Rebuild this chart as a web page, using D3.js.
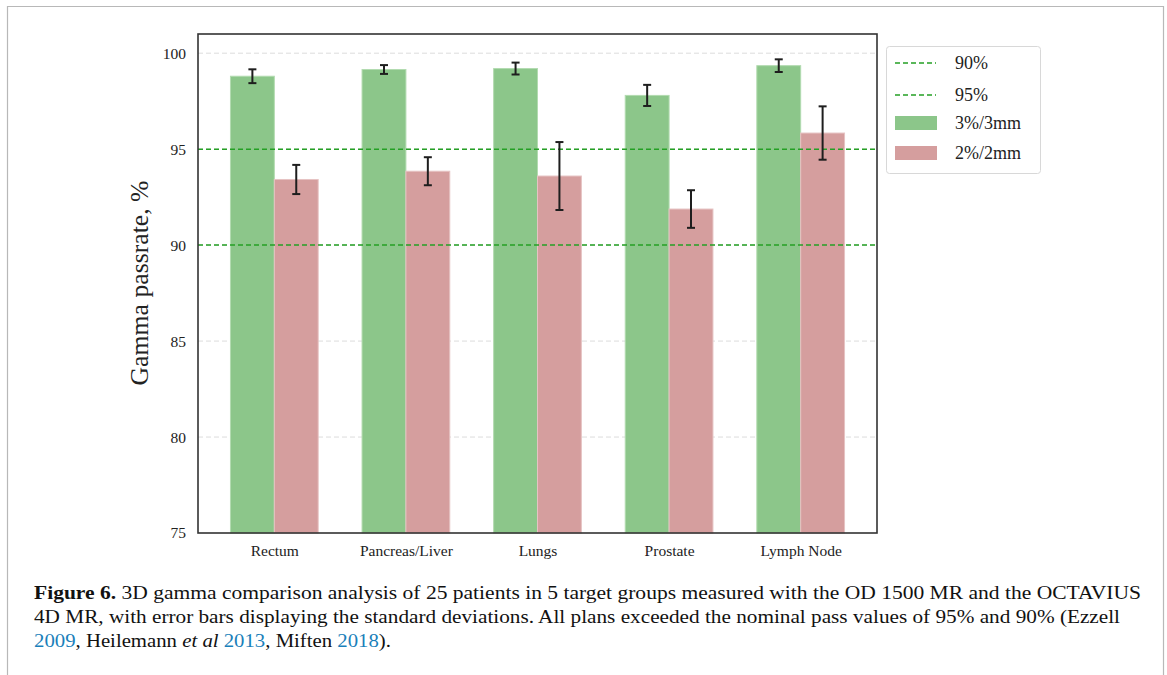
<!DOCTYPE html>
<html>
<head>
<meta charset="utf-8">
<script src="https://cdn.jsdelivr.net/npm/d3@7"></script>
<style>
  body { margin: 0; background: #fff; }
  svg { display: block; }
</style>
</head>
<body>
<svg id="canvas"></svg>
<script>
const categories = ["Rectum", "Pancreas/Liver", "Lungs", "Prostate", "Lymph Node"];
const mean3mm = [98.8, 99.15, 99.2, 97.8, 99.35];
const sd3mm = [0.36, 0.23, 0.31, 0.55, 0.33];
const mean2mm = [93.42, 93.85, 93.6, 91.88, 95.84];
const sd2mm = [0.76, 0.73, 1.77, 0.98, 1.39];
const thresholds = [90, 95];
const yTicks = [75, 80, 85, 90, 95, 100];
const seriesNames = ["3%/3mm", "2%/2mm"];

const width = 1167;
const height = 675;
const svg = d3.select("#canvas").attr("width", width).attr("height", height);

const serif = "'Liberation Serif', 'DejaVu Serif', serif";
const green = "#8cc68a";
const red = "#d59e9e";
const lineGreen = "#24a024";

// page frame (top and sides only)
svg.append("path")
    .attr("d", `M7.5,${height} V6.5 H1163.5 V${height}`)
    .attr("fill", "none")
    .attr("stroke", "#b8b8b8")
    .attr("stroke-width", 1.2);

const plot = { left: 198, right: 877, top: 34, bottom: 533 };

const xScale = d3.scaleLinear().domain([-0.58, 4.58]).range([plot.left, plot.right]);
const yScale = d3.scaleLinear().domain([75, 101]).range([plot.bottom, plot.top]);
const barW = xScale(1 / 3) - xScale(0);

const g = svg.append("g");

// grid
const yAxis = d3.axisLeft(yScale).tickValues(yTicks).tickSize(0).tickPadding(12);
g.append("g")
    .attr("transform", `translate(${plot.left},0)`)
    .call(yAxis)
    .call(a => a.select(".domain").remove())
    .call(a => a.selectAll("text")
        .attr("font-family", serif)
        .attr("font-size", 15.5)
        .attr("fill", "#222"));

g.append("g").selectAll("line")
    .data(yTicks.filter(t => t > 75))
    .join("line")
    .attr("x1", plot.left).attr("x2", plot.right)
    .attr("y1", d => yScale(d)).attr("y2", d => yScale(d))
    .attr("stroke", "#dcdcdc")
    .attr("stroke-width", 1)
    .attr("stroke-dasharray", "5,3");

// bars
const rows = categories.map((c, i) => ({ c, i, m3: mean3mm[i], s3: sd3mm[i], m2: mean2mm[i], s2: sd2mm[i] }));

g.append("g").selectAll("rect")
    .data(rows)
    .join("rect")
    .attr("x", d => xScale(d.i) - barW)
    .attr("y", d => yScale(d.m3))
    .attr("width", barW)
    .attr("height", d => plot.bottom - yScale(d.m3))
    .attr("fill", green)
    .attr("stroke", "#b2dbb0")
    .attr("stroke-width", 1);

g.append("g").selectAll("rect")
    .data(rows)
    .join("rect")
    .attr("x", d => xScale(d.i))
    .attr("y", d => yScale(d.m2))
    .attr("width", barW)
    .attr("height", d => plot.bottom - yScale(d.m2))
    .attr("fill", red)
    .attr("stroke", "#e6c3c3")
    .attr("stroke-width", 1);

// threshold lines
g.append("g").selectAll("line")
    .data(thresholds)
    .join("line")
    .attr("x1", plot.left).attr("x2", plot.right)
    .attr("y1", d => yScale(d)).attr("y2", d => yScale(d))
    .attr("stroke", lineGreen)
    .attr("stroke-width", 1.5)
    .attr("stroke-dasharray", "5,3");

// error bars
const errs = [];
rows.forEach(d => {
    errs.push({ x: xScale(d.i) - barW / 2, m: d.m3, s: d.s3 });
    errs.push({ x: xScale(d.i) + barW / 2, m: d.m2, s: d.s2 });
});
const eg = g.append("g").attr("stroke", "#1e1e1e").attr("stroke-width", 2);
eg.selectAll(".stem").data(errs).join("line")
    .attr("x1", d => d.x).attr("x2", d => d.x)
    .attr("y1", d => yScale(d.m - d.s)).attr("y2", d => yScale(d.m + d.s));
eg.selectAll(".capTop").data(errs).join("line")
    .attr("x1", d => d.x - 4).attr("x2", d => d.x + 4)
    .attr("y1", d => yScale(d.m + d.s)).attr("y2", d => yScale(d.m + d.s));
eg.selectAll(".capBot").data(errs).join("line")
    .attr("x1", d => d.x - 4).attr("x2", d => d.x + 4)
    .attr("y1", d => yScale(d.m - d.s)).attr("y2", d => yScale(d.m - d.s));

// x axis labels
const xAxis = d3.axisBottom(xScale).tickValues(d3.range(categories.length))
    .tickFormat(i => categories[i]).tickSize(0).tickPadding(12);
g.append("g")
    .attr("transform", `translate(0,${plot.bottom})`)
    .call(xAxis)
    .call(a => a.select(".domain").remove())
    .call(a => a.selectAll("text")
        .attr("font-family", serif)
        .attr("font-size", 15.5)
        .attr("fill", "#222"));

// spines
g.append("rect")
    .attr("x", plot.left).attr("y", plot.top)
    .attr("width", plot.right - plot.left).attr("height", plot.bottom - plot.top)
    .attr("fill", "none")
    .attr("stroke", "#333")
    .attr("stroke-width", 1.6);

// y label
g.append("text")
    .attr("transform", `translate(148,283) rotate(-90)`)
    .attr("text-anchor", "middle")
    .attr("font-family", serif)
    .attr("font-size", 24.5)
    .attr("fill", "#222")
    .attr("textLength", 205)
    .attr("lengthAdjust", "spacingAndGlyphs")
    .text("Gamma passrate, %");

// legend
const lg = svg.append("g").attr("transform", "translate(885,45)");
lg.append("rect")
    .attr("x", 1.5).attr("y", 1.5).attr("width", 154).attr("height", 127)
    .attr("rx", 3)
    .attr("fill", "#fff")
    .attr("stroke", "#d8d8d8");
const legendItems = [
    { label: "90%", type: "line" },
    { label: "95%", type: "line" },
    { label: seriesNames[0], type: "rect", color: green },
    { label: seriesNames[1], type: "rect", color: red }
];
const ly = [18, 50, 78, 108];
legendItems.forEach((d, i) => {
    if (d.type === "line") {
        lg.append("line")
            .attr("x1", 10).attr("x2", 51)
            .attr("y1", ly[i]).attr("y2", ly[i])
            .attr("stroke", lineGreen)
            .attr("stroke-width", 1.5)
            .attr("stroke-dasharray", "5,3");
    } else {
        lg.append("rect")
            .attr("x", 10).attr("y", ly[i] - 7)
            .attr("width", 42).attr("height", 14)
            .attr("fill", d.color);
    }
    lg.append("text")
        .attr("x", 70).attr("y", ly[i] + 6)
        .attr("font-family", serif)
        .attr("font-size", 18)
        .attr("fill", "#222")
        .text(d.label);
});

// caption
const cap = svg.append("g")
    .attr("font-family", serif)
    .attr("font-size", 18.5)
    .attr("fill", "#111");
const link = "#1a7fba";
const l1 = cap.append("text").attr("x", 34).attr("y", 599)
    .attr("textLength", 1107).attr("lengthAdjust", "spacingAndGlyphs");
l1.append("tspan").attr("font-weight", "bold").text("Figure 6.");
l1.append("tspan").text(" 3D gamma comparison analysis of 25 patients in 5 target groups measured with the OD 1500 MR and the OCTAVIUS");
cap.append("text").attr("x", 34).attr("y", 623)
    .attr("textLength", 1086).attr("lengthAdjust", "spacingAndGlyphs")
    .text("4D MR, with error bars displaying the standard deviations. All plans exceeded the nominal pass values of 95% and 90% (Ezzell");
const l3 = cap.append("text").attr("x", 34).attr("y", 647)
    .attr("textLength", 357).attr("lengthAdjust", "spacingAndGlyphs");
l3.append("tspan").attr("fill", link).text("2009");
l3.append("tspan").text(", Heilemann ");
l3.append("tspan").attr("font-style", "italic").text("et al");
l3.append("tspan").text(" ");
l3.append("tspan").attr("fill", link).text("2013");
l3.append("tspan").text(", Miften ");
l3.append("tspan").attr("fill", link).text("2018");
l3.append("tspan").text(").");
</script>
</body>
</html>
